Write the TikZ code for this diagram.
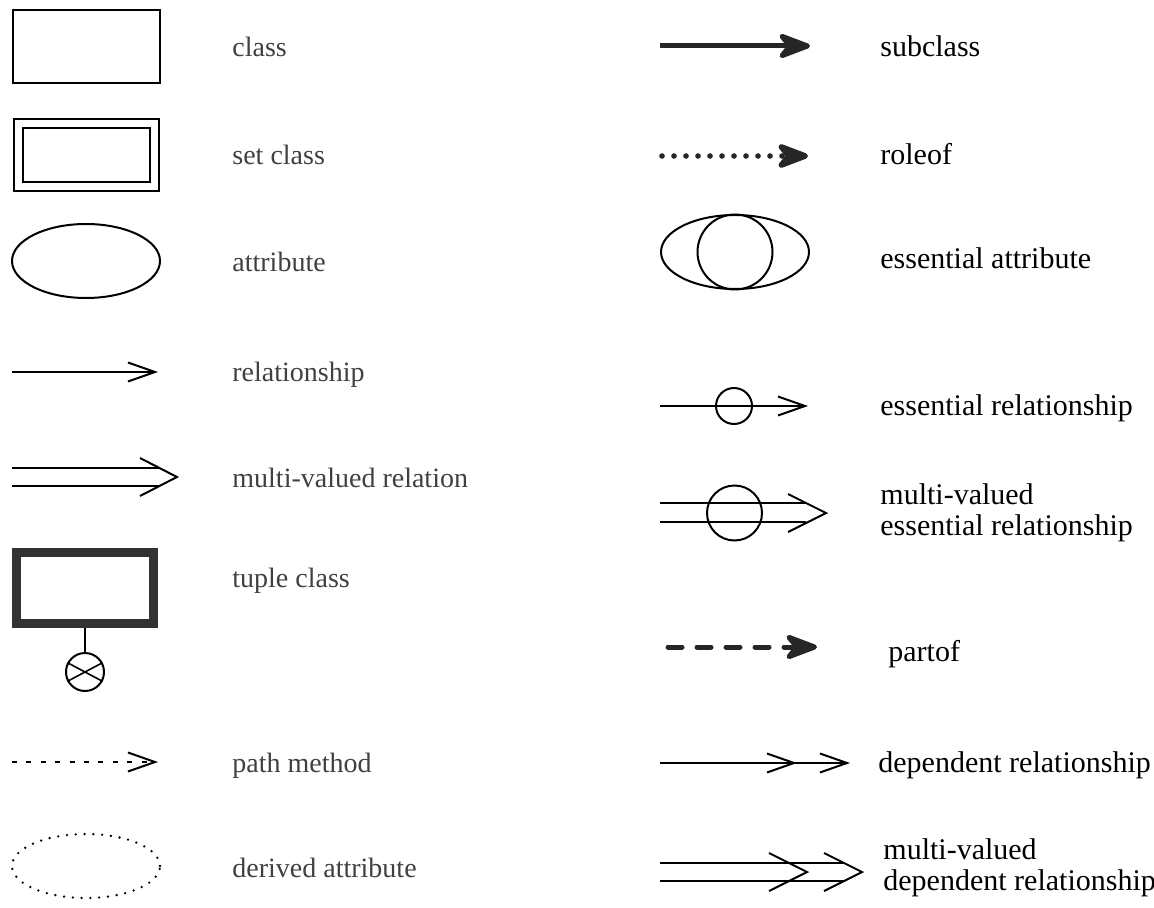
\documentclass[tikz,border=0pt]{standalone}
\usepackage{fontspec}
\setmainfont{Liberation Serif}
\usepackage{tikz}
\usetikzlibrary{arrows.meta,shapes.geometric}
\tikzstyle{classe} = [rectangle, draw=black, line width=1pt, inner sep=0pt, minimum width=73.5pt, minimum height=36.5pt]
\tikzstyle{conjunto} = [rectangle, draw=black, line width=0.9pt, double, double distance=3.6pt, inner sep=0pt, minimum width=68pt, minimum height=31.5pt]
\tikzstyle{tupla} = [rectangle, draw=black!80, line width=4.5pt, inner sep=0pt, minimum width=68.5pt, minimum height=35.5pt]
\tikzstyle{atributo} = [ellipse, draw=black, line width=1pt, inner sep=0pt, minimum width=74pt, minimum height=37pt]
\tikzstyle{derivado} = [ellipse, draw=black, line width=1.3pt, dash pattern=on 0pt off 4.4pt, line cap=round, inner sep=0pt, minimum width=74pt, minimum height=32pt]
\tikzstyle{bolinha} = [circle, draw=black, line width=1pt, inner sep=0pt]
\tikzstyle{rotulo} = [anchor=west, inner sep=0pt, text=black!75, font=\fontsize{14}{16}\selectfont, text height=1ex, text depth=0pt]
\tikzstyle{rotulod} = [anchor=west, inner sep=0pt, text=black, font=\fontsize{15}{15.5}\selectfont, text height=1ex, text depth=0pt]
\tikzstyle{rotulodd} = [anchor=west, inner sep=0pt, text=black, font=\fontsize{15}{15.5}\selectfont, align=left]
\tikzstyle{fina} = [line width=1pt]
\tikzstyle{seta} = [line width=1pt, -{Straight Barb[length=13.5pt, width=9.5pt]}]
\tikzstyle{setagrossa} = [line width=2.5pt, draw=black!85, -{Stealth[length=20pt, width=15pt, inset=6pt, round]}]

\begin{document}
\begin{tikzpicture}[x=0.5pt, y=-0.5pt]
        \useasboundingbox (0,0) rectangle (1154,908);
        % Coluna da esquerda: formas
        \node (cls) [classe] at (86.5,46.5) {};
        \node (setcls) [conjunto] at (86.5,155) {};
        \node (atr) [atributo] at (86,261) {};
        % Relacionamento simples
        \coordinate (rel-a) at (12,372);
        \coordinate (rel-b) at (158,372);
        \draw [seta] (rel-a) -- (rel-b);
        % Relação multivalorada
        \coordinate (mv-a1) at (12,468);
        \coordinate (mv-b1) at (160,468);
        \coordinate (mv-a2) at (12,486);
        \coordinate (mv-b2) at (160,486);
        \coordinate (mv-tip) at (177,477);
        \draw [fina] (mv-a1) -- (mv-b1);
        \draw [fina] (mv-a2) -- (mv-b2);
        \draw [fina] (mv-tip) +(-37,-19) -- (mv-tip) -- +(-37,19);
        % Classe tupla
        \node (tup) [tupla] at (85,588) {};
        \node (xor) [bolinha, minimum size=19pt] at (85,672) {};
        \draw [line width=0.7pt] (tup.south) -- (xor.north);
        \draw [line width=0.8pt] (xor.152) -- (xor.-28) (xor.208) -- (xor.28);
        % Método de caminho
        \coordinate (pm-a) at (12,762);
        \coordinate (pm-b) at (158,762);
        \draw [seta, dash pattern=on 2.5pt off 4.7pt] (pm-a) -- (pm-b);
        \node (der) [derivado] at (86,866) {};
        % Rótulos da esquerda
        \node (l-cls) [rotulo] at (232,52) {class};
        \node (l-setcls) [rotulo] at (232,160) {set class};
        \node (l-atr) [rotulo] at (232,267) {attribute};
        \node (l-rel) [rotulo] at (232,377) {relationship};
        \node (l-mv) [rotulo] at (232,483) {multi-valued relation};
        \node (l-tup) [rotulo] at (232,583) {tuple class};
        \node (l-pm) [rotulo] at (232,768) {path method};
        \node (l-der) [rotulo] at (232,873) {derived attribute};
        % Coluna da direita: subclasse e papel
        \coordinate (sub-a) at (660,46);
        \coordinate (sub-b) at (810,46);
        \draw [setagrossa] (sub-a) -- (sub-b);
        \coordinate (role-a) at (662,156);
        \coordinate (role-b) at (808,156);
        \draw [setagrossa, line width=2.8pt, dash pattern=on 0pt off 6pt, line cap=round] (role-a) -- (role-b);
        % Atributo essencial
        \node (essatr) [atributo] at (735,252) {};
        \node (essatr-c) [bolinha, minimum size=37.5pt] at (essatr.center) {};
        % Relacionamento essencial
        \coordinate (er-a) at (660,406);
        \coordinate (er-b) at (808,406);
        \draw [seta] (er-a) -- (er-b);
        \node (er-c) [bolinha, minimum size=18pt] at (734,406) {};
        % Relacionamento essencial multivalorado
        \coordinate (mve-a1) at (660,503);
        \coordinate (mve-b1) at (806,503);
        \coordinate (mve-a2) at (660,522);
        \coordinate (mve-b2) at (806,522);
        \coordinate (mve-tip) at (826,513);
        \draw [fina] (mve-a1) -- (mve-b1);
        \draw [fina] (mve-a2) -- (mve-b2);
        \draw [fina] (mve-tip) +(-38,-19) -- (mve-tip) -- +(-38,19);
        \node (mve-c) [bolinha, minimum size=27.5pt] at (734.5,513) {};
        % Parte de
        \coordinate (part-a) at (668,647);
        \coordinate (part-b) at (817,647);
        \draw [setagrossa, dash pattern=on 7pt off 7.5pt, line cap=round] (part-a) -- (part-b);
        % Relacionamento dependente
        \coordinate (dep-a) at (660,763);
        \coordinate (dep-m) at (797,763);
        \coordinate (dep-b) at (850,763);
        \draw [seta] (dep-a) -- (dep-b);
        \draw [seta] (dep-a) -- (dep-m);
        % Relacionamento dependente multivalorado
        \coordinate (mvd-a1) at (660,863);
        \coordinate (mvd-b1) at (844,863);
        \coordinate (mvd-a2) at (660,881);
        \coordinate (mvd-b2) at (844,881);
        \coordinate (mvd-tip1) at (807,872);
        \coordinate (mvd-tip2) at (862,872);
        \draw [fina] (mvd-a1) -- (mvd-b1);
        \draw [fina] (mvd-a2) -- (mvd-b2);
        \draw [fina] (mvd-tip1) +(-38,-19) -- (mvd-tip1) -- +(-38,19);
        \draw [fina] (mvd-tip2) +(-38,-19) -- (mvd-tip2) -- +(-38,19);
        % Rótulos da direita
        \node (l-sub) [rotulod] at (880,52) {subclass};
        \node (l-role) [rotulod] at (880,160) {roleof};
        \node (l-essatr) [rotulod] at (880,264) {essential attribute};
        \node (l-er) [rotulod] at (880,411) {essential relationship};
        \node (l-mve) [rotulodd] at (880,513) {multi-valued\\essential relationship};
        \node (l-part) [rotulod] at (888,657) {partof};
        \node (l-dep) [rotulod] at (878,768) {dependent relationship};
        \node (l-mvd) [rotulodd] at (883,868) {multi-valued\\dependent relationship};
    \end{tikzpicture}
\end{document}
